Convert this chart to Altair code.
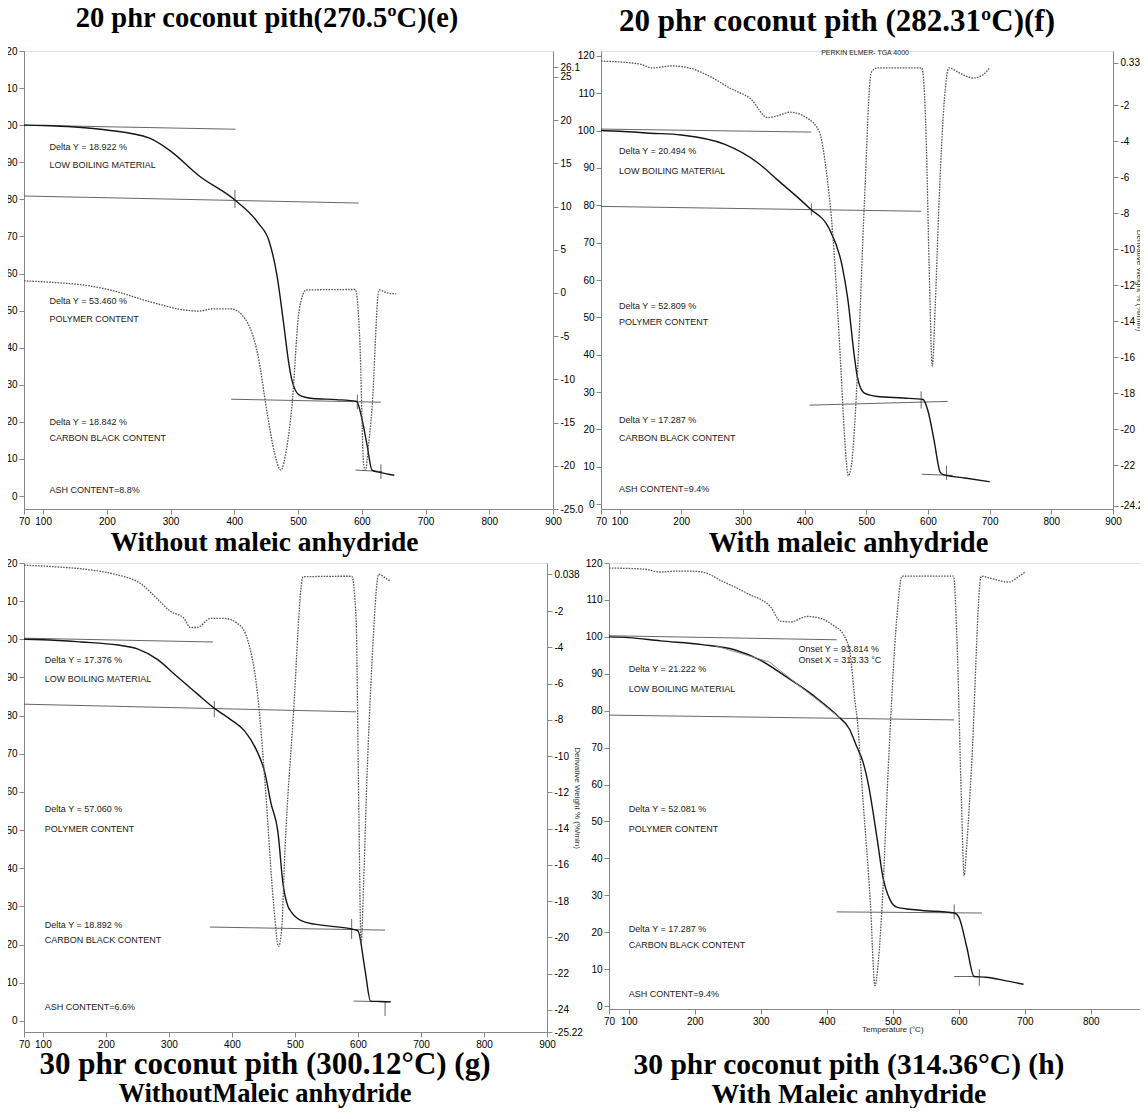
import altair as alt
import pandas as pd

SERIF = "Liberation Serif"
SANS = "Liberation Sans, Arial, sans-serif"

X_TICKS = [70, 100, 200, 300, 400, 500, 600, 700, 800, 900]
H_X_TICKS = [70, 100, 200, 300, 400, 500, 600, 700, 800]
W_TICKS = list(range(0, 121, 10))

# ---------------- panel (e) : 20 phr, without maleic anhydride ----------------
E_T = [70, 100, 150, 200, 267, 300, 345, 401, 437, 455, 467, 477, 486, 490, 502, 523, 560, 592, 600, 608, 616, 630, 651]
E_W = [100.0, 99.9, 99.5, 98.7, 96.5, 93.0, 86.3, 79.8, 73.7, 68.5, 59.4, 47.0, 35.2, 31.5, 27.2, 26.3, 26.0, 25.5, 21.0, 14.0, 7.0, 6.3, 5.6]
E_DT = [70, 120, 165, 205, 267, 325, 345, 365, 395, 417, 437, 452, 463, 473, 482, 490, 502, 513, 590, 597, 603, 606, 610, 616, 627, 640, 654]
E_D = [1.4, 1.2, 0.9, 0.35, -1.0, -2.0, -2.1, -1.85, -1.85, -3.0, -7.2, -14.1, -18.5, -20.5, -18.0, -13.4, -1.85, 0.35, 0.4, -5.7, -19.9, -20.5, -18.0, -13.4, 0.35, 0.0, -0.1]
E_LINES = [(70, 402, 100.0, 98.9), (70, 595, 80.9, 79.0), (395, 630, 26.1, 25.3), (590, 632, 7.0, 6.6)]
E_TICKS = [(401, 77.7, 82.5), (593, 23.4, 27.4), (630, 4.6, 8.6)]
E_NOTE_X = 110
E_NOTES = ["Delta Y = 18.922 %", "LOW BOILING MATERIAL", "Delta Y = 53.460 %", "POLYMER CONTENT",
           "Delta Y = 18.842 %", "CARBON BLACK CONTENT", "ASH CONTENT=8.8%"]
E_NOTE_Y = [94.0, 89.2, 52.7, 47.6, 19.9, 15.6, 1.6]
E_RTICKS = [-25, -20, -15, -10, -5, 0, 5, 10, 15, 20, 25, 26.1]

# ---------------- panel (f) : 20 phr, with maleic anhydride ----------------
F_T = [70, 100, 150, 200, 271, 324, 356, 408, 440, 461, 470, 481, 486, 497, 518, 560, 592, 600, 610, 620, 625, 660, 700]
F_W = [100.0, 99.8, 99.3, 98.8, 96.3, 91.4, 86.8, 79.2, 73.7, 63.7, 55.0, 39.2, 33.7, 29.7, 28.8, 28.4, 28.0, 25.0, 17.0, 8.5, 7.9, 7.0, 6.0]
F_DT = [70, 132, 153, 185, 213, 245, 281, 313, 340, 356, 376, 403, 424, 435, 446, 459, 465, 471, 476, 486, 497, 508, 518,
        590, 597, 602, 607, 612, 618, 626, 634, 650, 673, 690, 700]
F_D = [0.44, 0.28, 0.06, 0.17, 0.06, -0.39, -1.1, -1.67, -2.7, -2.6, -2.4, -2.7, -3.5, -5.6, -9.3, -16.7, -20.5, -22.6, -22.0,
       -16.7, -7.4, -0.2, 0.06, 0.06, -3.7, -11.0, -16.5, -13.0, -7.4, -2.0, 0.06, -0.2, -0.5, -0.3, 0.06]
F_LINES = [(70, 411, 100.4, 99.6), (70, 589, 79.7, 78.4), (408, 632, 26.5, 27.5), (590, 640, 8.0, 7.7)]
F_TICKS = [(411, 77.3, 80.5), (589, 25.6, 30.2), (630, 6.5, 10.3)]
F_NOTE_X = 99
F_NOTES = ["Delta Y = 20.494 %", "LOW BOILING MATERIAL", "Delta Y = 52.809 %", "POLYMER CONTENT",
           "Delta Y = 17.287 %", "CARBON BLACK CONTENT", "ASH CONTENT=9.4%"]
F_NOTE_Y = [94.4, 89.2, 53.1, 48.7, 22.6, 17.7, 4.1]
F_RTICKS = [0.334, -2, -4, -6, -8, -10, -12, -14, -16, -18, -20, -22, -24.27]

# ---------------- panel (g) : 30 phr, without maleic anhydride ----------------
G_T = [70, 100, 161, 219, 250, 281, 312, 345, 374, 397, 420, 438, 452, 462, 473, 481, 489, 494, 516, 553, 590, 600, 611, 620, 635, 652]
G_W = [100.0, 99.9, 99.3, 98.5, 97.5, 94.8, 90.4, 85.7, 81.7, 79.1, 76.0, 71.3, 65.2, 57.0, 49.5, 36.0, 30.0, 28.6, 25.9, 24.9,
       24.1, 23.6, 13.6, 5.2, 5.1, 5.0]
G_DT = [70, 120, 171, 214, 256, 281, 302, 324, 334, 345, 366, 388, 410, 426, 442, 453, 466, 474, 479, 484, 497, 513,
        590, 597, 601, 605, 609, 613, 622, 633, 645, 652]
G_D = [0.54, 0.45, 0.3, 0.04, -0.5, -1.3, -2.0, -2.4, -2.9, -2.9, -2.4, -2.4, -2.7, -3.7, -7.0, -11.7, -18.1, -20.5, -19.5,
       -15.3, -8.0, -0.1, -0.07, -2.4, -12.0, -20.3, -17.0, -12.5, -5.0, 0.04, -0.2, -0.35]
G_LINES = [(70, 370, 100.3, 99.3), (70, 597, 83.0, 81.0), (365, 643, 24.6, 23.8), (593, 652, 5.2, 5.0)]
G_TICKS = [(372, 79.6, 83.8), (590, 21.5, 26.7), (643, 1.3, 5.0)]
G_NOTE_X = 103
G_NOTES = ["Delta Y = 17.376 %", "LOW BOILING MATERIAL", "Delta Y = 57.060 %", "POLYMER CONTENT",
           "Delta Y = 18.892 %", "CARBON BLACK CONTENT", "ASH CONTENT=6.6%"]
G_NOTE_Y = [94.6, 89.6, 55.5, 50.3, 25.2, 21.2, 3.7]
G_RTICKS = [0.038, -2, -4, -6, -8, -10, -12, -14, -16, -18, -20, -22, -24, -25.22]

# ---------------- panel (h) : 30 phr, with maleic anhydride ----------------
H_T = [70, 100, 148, 211, 260, 300, 340, 379, 415, 434, 446, 455, 463, 476, 485, 496, 506, 537, 593, 600, 612, 623, 641, 670, 698]
H_W = [100.0, 99.8, 98.9, 97.9, 96.5, 93.6, 89.0, 84.2, 78.8, 75.1, 70.0, 66.0, 60.0, 45.6, 34.9, 28.7, 26.8, 26.0, 25.2, 24.1,
       16.0, 8.0, 7.8, 6.9, 5.9]
H_DT = [70, 123, 148, 174, 190, 211, 241, 281, 315, 330, 345, 370, 390, 410, 425, 435, 443, 446, 455, 466, 473, 478, 484, 493,
        506, 514, 592, 597, 604, 608, 612, 619, 634, 650, 676, 690, 700]
H_D = [0.39, 0.33, 0.17, 0.22, 0.22, 0.17, -0.33, -1.05, -1.78, -2.56, -2.6, -2.3, -2.4, -2.8, -3.3, -4.3, -7.1, -8.0, -12.6,
       -18.2, -22.8, -21.5, -18.2, -10.8, -2.4, -0.06, -0.06, -3.4, -12.6, -16.7, -15.0, -10.8, -0.06, -0.2, -0.39, -0.1, 0.17]
H_LINES = [(70, 415, 100.3, 99.2), (70, 593, 78.8, 77.5), (415, 635, 25.5, 25.2), (593, 625, 8.0, 8.0)]
H_TANGENT_T = [230, 313, 420]
H_TANGENT_W = [97.6, 93.2, 78.0]
H_TICKS = [(593, 23.5, 27.5), (631, 5.5, 10.0)]
H_NOTE_X = 100
H_NOTES = ["Delta Y = 21.222 %", "LOW BOILING MATERIAL", "Delta Y = 52.081 %", "POLYMER CONTENT",
           "Delta Y = 17.287 %", "CARBON BLACK CONTENT", "ASH CONTENT=9.4%"]
H_NOTE_Y = [91.2, 85.8, 53.4, 48.0, 20.9, 16.6, 3.2]
H_ONSET_X = 357
H_ONSET = ["Onset Y = 93.814 %", "Onset X = 313.33 °C"]
H_ONSET_Y = [96.8, 93.8]


def make_panel(tga_t, tga_w, dtg_t, dtg_d, lines, ticks, note_x, notes, note_y,
               xdom, xticks, ldom, rdom, rticks, width, height,
               xtitle=None, xtitle_x=0, xtitle_size=27, xtitle_pad=5,
               rtitle=None, rtitle_x=None, show_raxis=True, extra=None, tangent=None):
    tga_df = pd.DataFrame({"T": tga_t, "w": tga_w})
    seg_rows = []
    for i, (x1, x2, y1, y2) in enumerate(lines):
        seg_rows.append({"T": x1, "w": y1, "seg": i})
        seg_rows.append({"T": x2, "w": y2, "seg": i})
    seg_df = pd.DataFrame(seg_rows)
    tick_df = pd.DataFrame({"T": [t[0] for t in ticks], "w": [t[1] for t in ticks], "w2": [t[2] for t in ticks]})
    note_df = pd.DataFrame({"T": [note_x] * len(notes), "w": note_y, "label": notes})
    dtg_df = pd.DataFrame({"T": dtg_t, "d": dtg_d})

    xkw = dict(values=xticks, labelFlush=False, labelOverlap=False, grid=False)
    if xtitle:
        xkw.update(title=xtitle, titleX=xtitle_x, titlePadding=xtitle_pad, titleFont=SERIF,
                   titleFontSize=xtitle_size, titleFontWeight="bold", titleColor="#000")
    else:
        xkw.update(title=None)
    xenc = alt.X("T:Q", scale=alt.Scale(domain=xdom, nice=False, zero=False), axis=alt.Axis(**xkw))
    yenc = alt.Y("w:Q", scale=alt.Scale(domain=ldom, nice=False, zero=False),
                 axis=alt.Axis(values=W_TICKS, title=None, grid=False, labelOverlap=False))

    layers = [
        alt.Chart(seg_df).mark_line(color="#555", strokeWidth=0.9).encode(x=xenc, y=yenc, detail="seg:N"),
        alt.Chart(tick_df).mark_rule(color="#555", strokeWidth=0.9).encode(x=xenc, y=yenc, y2="w2:Q"),
        alt.Chart(tga_df).mark_line(color="#151515", strokeWidth=1.4, interpolate="monotone").encode(x=xenc, y=yenc),
        alt.Chart(note_df).mark_text(align="left", baseline="middle", font=SANS, fontSize=9, color="#222")
        .encode(x=xenc, y=yenc, text="label:N"),
    ]
    if tangent is not None:
        tan_df = pd.DataFrame({"T": tangent[0], "w": tangent[1]})
        layers.append(alt.Chart(tan_df).mark_line(color="#888", strokeWidth=0.9).encode(x=xenc, y=yenc))
    if extra is not None:
        for (ex_x, ex_y, ex_text, ex_size, ex_align) in extra:
            ex_df = pd.DataFrame({"T": [ex_x] * len(ex_text), "w": ex_y, "label": ex_text})
            layers.append(alt.Chart(ex_df).mark_text(align=ex_align, baseline="middle", font=SANS,
                                                      fontSize=ex_size, color="#222")
                          .encode(x=xenc, y=yenc, text="label:N"))
    left = alt.layer(*layers)

    if show_raxis:
        rkw = dict(orient="right", values=rticks, grid=False, labelOverlap=False,
                   labelExpr="datum.value == -25 ? '-25.0' : '' + datum.value")
        if rtitle:
            rkw.update(title=rtitle, titleFont=SANS, titleFontSize=8, titleFontWeight="normal",
                       titleColor="#333", titlePadding=2, titleX=rtitle_x)
        else:
            rkw.update(title=None)
        raxis = alt.Axis(**rkw)
    else:
        raxis = None
    dtg = alt.Chart(dtg_df).mark_line(color="#555", strokeWidth=1.3, strokeDash=[1.6, 1.2],
                                      interpolate="monotone").encode(
        x=xenc, y=alt.Y("d:Q", scale=alt.Scale(domain=rdom, nice=False, zero=False), axis=raxis))
    return alt.layer(left, dtg).resolve_scale(y="independent").properties(width=width, height=height)


def top_title(text, size, dx, offset):
    return alt.TitleParams(text=text, font=SERIF, fontSize=size, fontWeight="bold", color="#000",
                           anchor="middle", frame="group", dx=dx, offset=offset)


def bottom_title(text, sub, size, subsize, dx, offset):
    return alt.TitleParams(text=text, subtitle=sub, orient="bottom", font=SERIF, fontSize=size,
                           fontWeight="bold", color="#000", subtitleFont=SERIF, subtitleFontSize=subsize,
                           subtitleFontWeight="bold", subtitleColor="#000", subtitlePadding=0,
                           anchor="middle", frame="group", dx=dx, offset=offset)


pe = make_panel(E_T, E_W, E_DT, E_D, E_LINES, E_TICKS, E_NOTE_X, E_NOTES, E_NOTE_Y,
                [70, 900], X_TICKS, [-3.5, 120], [-25, 28], E_RTICKS, 529, 458,
                xtitle="Without maleic anhydride", xtitle_x=240, xtitle_size=27.5, xtitle_pad=2).properties(
    title=top_title("20 phr coconut pith(270.5ºC)(e)", 28.5, -21.5, 13.5))

pf = make_panel(F_T, F_W, F_DT, F_D, F_LINES, F_TICKS, F_NOTE_X, F_NOTES, F_NOTE_Y,
                [70, 900], X_TICKS, [-1.3, 121.3], [-24.44, 1.0], F_RTICKS, 512, 458,
                xtitle="With maleic anhydride", xtitle_x=247, xtitle_size=28.5, xtitle_pad=2,
                rtitle="Derivative Weight % (%/min)", rtitle_x=21,
                extra=[(498, [120.8], ["PERKIN ELMER- TGA 4000"], 7, "center")]).properties(
    title=top_title("20 phr coconut pith (282.31ºC)(f)", 31, -20, 11))

pg = make_panel(G_T, G_W, G_DT, G_D, G_LINES, G_TICKS, G_NOTE_X, G_NOTES, G_NOTE_Y,
                [70, 900], X_TICKS, [-2.9, 120], [-25.22, 0.66], G_RTICKS, 523, 469,
                rtitle="Derivative Weight % (%/min)", rtitle_x=25).properties(
    title=bottom_title("30 phr coconut pith (300.12°C) (g)", "WithoutMaleic anhydride", 31, 26.5, -20.5, 1))

ph = make_panel(H_T, H_W, H_DT, H_D, H_LINES, H_TICKS, H_NOTE_X, H_NOTES, H_NOTE_Y,
                [70, 876], H_X_TICKS, [-0.8, 120], [-24.1, 0.67], [], 532, 446,
                show_raxis=False,
                extra=[(H_ONSET_X, H_ONSET_Y, H_ONSET, 9, "left"),
                       (500, [-6.5], ["Temperature (°C)"], 8, "center")],
                tangent=(H_TANGENT_T, H_TANGENT_W)).properties(
    title=bottom_title("30 phr coconut pith (314.36°C) (h)", "With Maleic anhydride", 29.5, 27.7, -26, 17))

row1 = alt.hconcat(pe, pf, spacing=-8)
row2 = alt.hconcat(pg, ph, spacing=1)

chart = alt.vconcat(row1, row2, spacing=0).properties(
    padding={"left": -9, "top": -5, "right": -9, "bottom": -1.5}
).configure_view(stroke=None).configure_axis(
    labelFont=SANS, labelFontSize=8, labelColor="#222", tickColor="#777", domainColor="#888",
    tickSize=4, labelPadding=2, grid=False
).configure(background="white")

chart.save("out.html", embed_options={"renderer": "svg", "actions": False})
